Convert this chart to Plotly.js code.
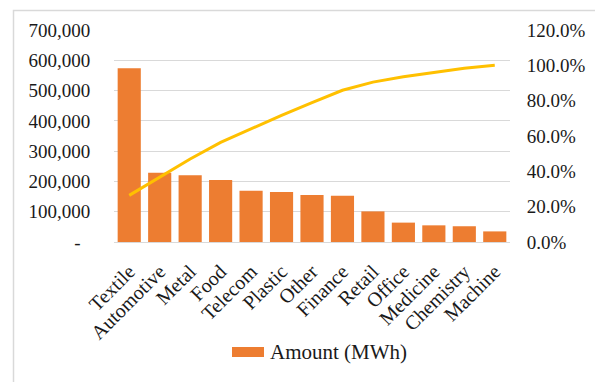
<!DOCTYPE html>
<html>
<head>
<meta charset="utf-8">
<script src="https://cdn.plot.ly/plotly-3.0.1.min.js"></script>
<style>
  html, body { margin: 0; padding: 0; background: #fff; }
  #chart { width: 595px; height: 382px; }
</style>
</head>
<body>
<div id="chart"></div>
<script>
const categories = ["Textile", "Automotive", "Metal", "Food", "Telecom", "Plastic", "Other",
  "Finance", "Retail", "Office", "Medicine", "Chemistry", "Machine"];
const amountMWh = [574000, 229000, 220000, 205000, 169000, 165000, 155000,
  153000, 101000, 64000, 55000, 52000, 35000];
const cumulativePct = [26.4, 36.9, 47.0, 56.4, 64.2, 71.7, 78.9,
  85.9, 90.5, 93.5, 96.0, 98.4, 100.0];
const leftTickVals = [0, 100000, 200000, 300000, 400000, 500000, 600000, 700000];
const leftTickText = ["-\u00a0\u00a0", "100,000", "200,000", "300,000", "400,000", "500,000", "600,000", "700,000"];
const rightTickVals = [0, 20, 40, 60, 80, 100, 120];
const rightTickText = ["0.0%", "20.0%", "40.0%", "60.0%", "80.0%", "100.0%", "120.0%"];
const seriesName = "Amount (MWh)";

const family = "Liberation Serif, Times New Roman, serif";
const textColor = "#1a1a1a";
const tickFont = { family: family, size: 19, color: textColor };
const catFont = { family: family, size: 20, color: textColor };

const traces = [
  {
    type: "bar",
    name: seriesName,
    x: categories,
    y: amountMWh,
    marker: { color: "#ED7D31" },
    showlegend: false
  },
  {
    type: "scatter",
    mode: "lines",
    name: "Cumulative",
    x: categories,
    y: cumulativePct,
    yaxis: "y2",
    line: { color: "#FFC000", width: 3 },
    showlegend: false
  }
];

// pixel -> paper helpers (plot area: x 114..510, y 30..242)
const px = v => (v - 114) / 396;
const py = v => (242 - v) / 212;

const layout = {
  width: 595,
  height: 382,
  margin: { l: 114, r: 85, t: 30, b: 140 },
  paper_bgcolor: "#ffffff",
  plot_bgcolor: "#ffffff",
  font: tickFont,
  bargap: 0.24,
  showlegend: false,
  xaxis: {
    type: "category",
    tickangle: -45,
    showgrid: false,
    showline: false,
    zeroline: false,
    ticks: "outside",
    ticklen: 9,
    tickcolor: "rgba(0,0,0,0)",
    tickfont: catFont,
    automargin: false
  },
  yaxis: {
    range: [0, 700000],
    tickvals: leftTickVals,
    ticktext: leftTickText,
    showgrid: true,
    gridcolor: "#d9d9d9",
    gridwidth: 1,
    zeroline: true,
    zerolinecolor: "#d9d9d9",
    zerolinewidth: 1,
    showline: false,
    ticks: "outside",
    ticklen: 19,
    tickcolor: "rgba(0,0,0,0)",
    tickfont: tickFont,
    automargin: false
  },
  yaxis2: {
    overlaying: "y",
    side: "right",
    range: [0, 120],
    tickvals: rightTickVals,
    ticktext: rightTickText,
    showgrid: false,
    zeroline: false,
    showline: false,
    ticks: "outside",
    ticklen: 12,
    tickcolor: "rgba(0,0,0,0)",
    tickfont: tickFont,
    automargin: false
  },
  shapes: [
    {
      type: "rect",
      xref: "paper", yref: "paper",
      x0: px(13.5), x1: px(640),
      y0: py(420), y1: py(10.5),
      line: { color: "#d9d9d9", width: 1.5 },
      fillcolor: "rgba(0,0,0,0)",
      layer: "below"
    },
    {
      type: "rect",
      xref: "paper", yref: "paper",
      x0: px(232), x1: px(264),
      y0: py(357), y1: py(347),
      line: { width: 0 },
      fillcolor: "#ED7D31"
    }
  ],
  annotations: [
    {
      xref: "paper", yref: "paper",
      x: px(268), y: py(352),
      xanchor: "left", yanchor: "middle",
      text: seriesName,
      showarrow: false,
      font: { family: family, size: 21, color: textColor }
    }
  ]
};

Plotly.newPlot("chart", traces, layout, { displayModeBar: false, staticPlot: true });
</script>
</body>
</html>
